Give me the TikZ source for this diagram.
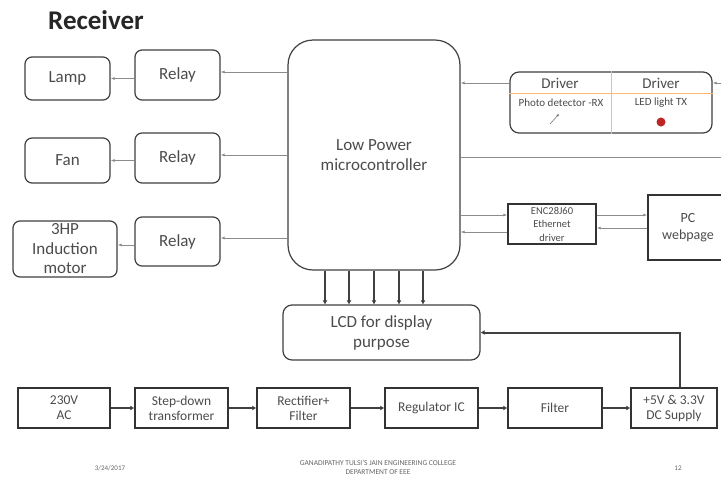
\documentclass[tikz,border=0pt]{standalone}
\usepackage{fontspec}
\setmainfont{Carlito}
\usetikzlibrary{arrows.meta,positioning,calc}

\tikzset{
  rbox/.style={draw=black!75,line width=1.2pt,rounded corners=7pt,align=center,inner sep=0pt,text=black!70,font=\fontsize{17}{20}\selectfont},
  sbox/.style={draw=black!80,line width=1.4pt,align=center,inner sep=0pt,text=black!70,font=\fontsize{13.5}{15}\selectfont},
  link/.style={draw=black!45,line width=0.8pt,-{Latex[length=4pt,width=3pt]}},
  bus/.style={draw=black!75,line width=2pt,-{Latex[length=4pt,width=5pt]}},
}

\begin{document}
\begin{tikzpicture}[x=1pt,y=-1pt,>=latex]
  \clip (0,0) rectangle (721,480);
  \fill[white] (0,0) rectangle (721,480);
  % titolo
  \node[font=\fontsize{27}{30}\selectfont\bfseries,text=black!85] (title) at (96,20) {Receiver};
  % carichi e rele
  \node[rbox,minimum width=85pt,minimum height=43pt] (lamp) at (67.5,78.5) {Lamp};
  \node[rbox,minimum width=85pt,minimum height=50pt] (relayA) at (177.5,75) {Relay};
  \node[rbox,minimum width=85pt,minimum height=45pt] (fan) at (67.5,160.5) {Fan};
  \node[rbox,minimum width=85pt,minimum height=50pt] (relayB) at (177.5,158) {Relay};
  \node[rbox,minimum width=104pt,minimum height=56pt,font=\fontsize{17}{19.5}\selectfont] (motor) at (65,249) {3HP\\Induction\\motor};
  \node[rbox,minimum width=85pt,minimum height=49pt] (relayC) at (177.5,241.5) {Relay};
  % microcontrollore
  \node[rbox,rounded corners=25pt,minimum width=172pt,minimum height=230pt] (mcu) at (374,155) {Low Power\\microcontroller};
  % driver ottico
  \node[rbox,rounded corners=9pt,minimum width=202pt,minimum height=61pt] (drv) at (611,102.5) {};
  \draw[orange!55,line width=0.6pt] (drv.north) -- (drv.south);
  \draw[orange!55,line width=0.6pt] ([yshift=-22pt]drv.north west) -- ([yshift=-22pt]drv.north east);
  \node[text=black!70,font=\fontsize{15}{16}\selectfont] (drvL) at (560,83) {Driver};
  \node[text=black!70,font=\fontsize{15}{16}\selectfont] (drvR) at (661,83) {Driver};
  \node[text=black!70,font=\fontsize{11}{12}\selectfont] (rx) at (561,103) {Photo detector -RX};
  \node[text=black!70,font=\fontsize{11}{12}\selectfont] (tx) at (661,103) {LED light TX};
  \fill[red!70!black!85] (661,122) circle (4.5pt);
  \draw[black!60,line width=0.5pt,-{Latex[length=2.5pt,width=2.5pt]}] (550,124) -- (559,114);
  % ethernet e pc
  \node[sbox,minimum width=88pt,minimum height=40pt,font=\fontsize{10.5}{13.5}\selectfont] (enc) at (552,224) {ENC28J60\\Ethernet\\driver};
  \node[sbox,minimum width=80pt,minimum height=65pt,text width=70pt,font=\fontsize{14}{17}\selectfont] (pc) at (688,227.5) {PC\\webpage};
  % display
  \node[rbox,rounded corners=9pt,minimum width=197pt,minimum height=55pt] (lcd) at (381.5,332.5) {LCD for display\\purpose};
  % alimentazione
  \node[sbox,minimum width=92pt,minimum height=40pt] (ac) at (64,408) {230V\\AC};
  \node[sbox,minimum width=93pt,minimum height=40pt] (step) at (181.5,408) {Step-down\\transformer};
  \node[sbox,minimum width=93pt,minimum height=40pt] (rect) at (303.5,408) {Rectifier+\\Filter};
  \node[sbox,minimum width=93pt,minimum height=40pt] (reg) at (431.5,408) {Regulator IC};
  \node[sbox,minimum width=94pt,minimum height=40pt] (filt) at (555,408) {Filter};
  \node[sbox,minimum width=86pt,minimum height=40pt] (sup) at (674,408) {+5V \& 3.3V\\DC Supply};
  % collegamenti
  \draw[link] (mcu.west |- 0,72) -- (relayA.east |- 0,72);
  \draw[link] (relayA.west |- lamp.east) -- (lamp.east);
  \draw[link] (mcu.west |- 0,155) -- (relayB.east |- 0,155);
  \draw[link] (relayB.west |- fan.east) -- (fan.east);
  \draw[link] (mcu.west |- 0,238) -- (relayC.east |- 0,238);
  \draw[link] (relayC.west |- 0,245) -- (motor.east |- 0,245);
  \coordinate (edgeA) at (721,83);
  \coordinate (edgeB) at (721,157);
  \draw[link] (drv.west |- edgeA) -- (mcu.east |- edgeA);
  \draw[link] (edgeA) -- (drv.east |- edgeA);
  \draw[draw=black!45,line width=0.8pt] (mcu.east |- edgeB) -- (edgeB);
  \draw[link] (mcu.east |- 0,215) -- (enc.west |- 0,215);
  \draw[link] (enc.west |- 0,232) -- (mcu.east |- 0,232);
  \draw[link] (enc.east |- 0,215) -- (pc.west |- 0,215);
  \draw[link] (pc.west |- 0,228) -- (enc.east |- 0,228);
  \foreach \dx in {-49,-25,0,25,49}
    \draw[bus] ([xshift=\dx pt]mcu.south) -- ([xshift=\dx pt]mcu.south |- lcd.north);
  \draw[bus] ([xshift=6pt]sup.north) |- (lcd.east);
  \foreach \a/\b in {ac/step,step/rect,rect/reg,reg/filt,filt/sup}
    \draw[bus] (\a) -- (\b);
  % pie di pagina
  \node[text=black!60,font=\fontsize{7}{8}\selectfont] (date) at (110,468) {3/24/2017};
  \node[text=black!60,font=\fontsize{7.5}{9}\selectfont,align=center] (college) at (378,467) {GANADIPATHY TULSI'S JAIN ENGINEERING COLLEGE\\DEPARTMENT OF EEE};
  \node[text=black!60,font=\fontsize{7}{8}\selectfont] (page) at (678,468) {12};
\end{tikzpicture}
\end{document}
